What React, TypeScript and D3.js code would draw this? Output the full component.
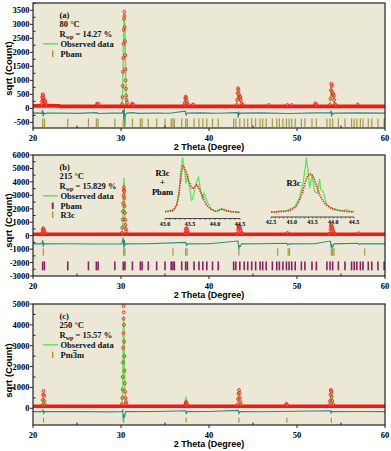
import React from 'react';
import * as d3 from 'd3';

type Pt = [number, number];

const xTicks = [20, 30, 40, 50, 60];
const xMinor = [25, 35, 45, 55];

// reflection positions (2 theta)
const pbamTicks = [21.1, 21.3, 23.95, 26.3, 27.2, 27.4, 29.3, 30.26, 30.45, 31.3, 32.2, 32.4, 33.1, 34.05, 35.0,
  35.7, 35.9, 36.06, 36.9, 37.35, 37.54, 38.3, 38.86, 39.3, 39.75, 40.4, 41.05, 42.8, 43.05, 43.5, 44.0, 44.4,
  44.85, 45.3, 45.8, 46.1, 46.5, 47.2, 47.7, 48.0, 48.4, 48.8, 49.1, 49.4, 49.8, 50.5, 50.9, 51.7, 52.2, 53.4,
  53.75, 54.05, 54.7, 55.45, 56.2, 56.5, 56.8, 57.2, 57.5, 58.1, 58.5, 59.2, 59.9];
const r3cTicks = [21.17, 30.3, 30.45, 35.9, 37.35, 37.5, 43.4, 47.8, 49.0, 49.15, 53.9, 54.05, 54.2, 57.7];
const pm3mTicks = [21.2, 30.3, 37.4, 43.4, 48.85, 53.9];

// (a) 80 °C
const yTicksA = [-500, 0, 500, 1000, 1500, 2000, 2500, 3000, 3500];
const bgA: Pt[] = [[20, 90], [23, 90], [23.1, 70], [60, 70]];
const obsA: Pt[] = [
  [20.95, 120], [21.0, 250], [21.05, 400], [21.1, 500], [21.13, 470], [21.17, 380], [21.2, 300], [21.25, 210],
  [21.3, 250], [21.35, 280], [21.4, 200], [21.5, 120],
  [27.25, 120], [27.3, 170], [27.4, 150],
  [30.12, 150], [30.17, 400], [30.2, 800], [30.22, 1300], [30.25, 1800], [30.28, 2300], [30.31, 2800], [30.34, 3200],
  [30.37, 3450], [30.4, 3300], [30.42, 2900], [30.45, 2400], [30.47, 1900], [30.5, 1400], [30.52, 1000], [30.55, 700],
  [30.58, 450], [30.62, 300], [30.68, 200],
  [31.25, 130], [31.3, 170], [31.38, 130],
  [37.2, 110], [37.25, 200], [37.3, 350], [37.35, 420], [37.4, 380], [37.45, 280], [37.5, 180], [37.6, 120],
  [38.15, 110], [38.2, 140], [46.8, 120], [48.9, 120], [49.4, 120],
  [43.15, 120], [43.2, 300], [43.25, 550], [43.3, 720], [43.35, 650], [43.4, 500], [43.45, 380], [43.5, 420],
  [43.55, 400], [43.6, 300], [43.7, 180], [43.8, 120],
  [52.05, 120], [52.1, 180], [52.2, 120],
  [53.75, 120], [53.8, 350], [53.85, 650], [53.9, 880], [53.95, 800], [54.0, 600], [54.05, 480], [54.1, 520],
  [54.15, 450], [54.2, 300], [54.3, 150], [54.4, 110],
  [56.9, 140],
];
const calcA: Pt[] = [
  [20, 80], [20.95, 80], [21.02, 200], [21.08, 430], [21.12, 470], [21.18, 300], [21.25, 200], [21.33, 250],
  [21.4, 150], [21.5, 80], [27.15, 80], [27.3, 160], [27.45, 80],
  [30.1, 80], [30.2, 600], [30.27, 2000], [30.33, 3100], [30.38, 3400], [30.43, 3000], [30.5, 1800], [30.57, 700],
  [30.65, 200], [30.75, 80], [31.2, 80], [31.3, 160], [31.4, 80],
  [37.15, 80], [37.25, 250], [37.32, 380], [37.38, 400], [37.45, 250], [37.55, 90], [38.1, 80], [38.2, 130], [38.3, 80],
  [43.1, 80], [43.2, 300], [43.28, 700], [43.33, 680], [43.4, 480], [43.48, 400], [43.55, 380], [43.65, 200], [43.8, 80],
  [52.0, 80], [52.1, 170], [52.2, 80],
  [53.7, 80], [53.8, 350], [53.88, 850], [53.93, 820], [54.0, 560], [54.08, 480], [54.15, 430], [54.25, 200], [54.4, 80],
  [56.8, 80], [56.9, 130], [57.0, 80], [60, 80],
];
const diffA: Pt[] = [
  [20, -170], [20.5, -160], [21.0, -175], [21.08, -60], [21.15, -280], [21.22, -150], [21.35, -200], [21.5, -170],
  [23, -165], [25, -178], [27.3, -150], [27.4, -185], [29, -168], [30.1, -170], [30.25, -60], [30.32, -400],
  [30.38, 20], [30.42, -620], [30.48, -250], [30.55, -200], [30.65, -170], [31.3, -150], [32, -178], [34, -165],
  [35.5, -176], [37.3, -100], [37.4, -240], [37.5, -170], [39, -162], [41, -176], [43.25, -150], [43.32, -330],
  [43.4, -140], [43.5, -200], [43.6, -170], [46, -162], [49, -180], [52.1, -160], [53.8, -150], [53.88, -80],
  [53.93, -300], [54.0, -160], [54.1, -200], [54.25, -170], [57, -160], [60, -170],
];

// (b) 215 °C
const yTicksB = [-3000, -2000, -1000, 0, 1000, 2000, 3000, 4000, 5000, 6000];
const bgB: Pt[] = [[20, 100], [60, 100]];
const obsB: Pt[] = [
  [21.0, 150], [21.1, 400], [21.15, 550], [21.2, 500], [21.25, 350], [21.3, 250], [21.4, 150],
  [30.1, 200], [30.15, 600], [30.2, 1200], [30.22, 1800], [30.25, 2400], [30.28, 3000], [30.3, 3400], [30.33, 3600],
  [30.36, 3300], [30.38, 2800], [30.4, 2200], [30.43, 1700], [30.46, 1200], [30.5, 800], [30.55, 500], [30.6, 300],
  [37.3, 150], [37.35, 350], [37.4, 520], [37.45, 550], [37.5, 420], [37.55, 250], [37.6, 150],
  [43.2, 150], [43.3, 450], [43.35, 650], [43.4, 710], [43.45, 600], [43.5, 550], [43.55, 500], [43.6, 350],
  [43.7, 200], [43.8, 150], [48.9, 200],
  [53.7, 150], [53.8, 450], [53.85, 700], [53.9, 790], [53.95, 700], [54.0, 550], [54.05, 450], [54.1, 350],
  [54.2, 200], [54.3, 150], [57.0, 180],
];
const calcB: Pt[] = [
  [20, 100], [21.0, 100], [21.08, 350], [21.14, 500], [21.2, 450], [21.28, 250], [21.4, 100],
  [30.1, 100], [30.2, 800], [30.27, 2800], [30.32, 4300], [30.37, 3500], [30.43, 1600], [30.52, 500], [30.62, 150],
  [30.75, 100], [37.25, 100], [37.35, 350], [37.42, 500], [37.5, 350], [37.6, 100],
  [43.15, 100], [43.28, 500], [43.35, 700], [43.42, 650], [43.5, 550], [43.6, 300], [43.75, 100],
  [48.8, 100], [48.9, 180], [49.0, 100],
  [53.7, 100], [53.8, 400], [53.87, 780], [53.95, 700], [54.05, 450], [54.2, 150], [54.3, 100],
  [56.9, 100], [57.0, 160], [57.1, 100], [60, 100],
];
const diffB: Pt[] = [
  [20, -610], [21.0, -610], [21.1, -350], [21.18, -820], [21.25, -560], [21.4, -610], [24, -600], [27, -618],
  [30.1, -610], [30.25, -150], [30.32, -950], [30.38, -300], [30.45, -700], [30.6, -610], [33, -600],
  [37.35, -500], [37.45, -720], [37.55, -610], [40, -602], [43.3, -400], [43.38, -1000], [43.45, -750],
  [43.55, -800], [43.7, -610], [46, -600], [48.85, -560], [48.95, -700], [49.1, -610], [52, -605],
  [53.8, -400], [53.88, -900], [53.95, -700], [54.05, -850], [54.2, -610], [56.95, -560], [57.05, -650],
  [57.2, -610], [60, -610],
];

// (c) 250 °C
const yTicksC = [0, 1000, 2000, 3000, 4000, 5000];
const bgC: Pt[] = [[20, 100], [60, 100]];
const obsC: Pt[] = [
  [21.05, 150], [21.1, 400], [21.15, 650], [21.2, 830], [21.25, 600], [21.3, 350], [21.35, 150],
  [30.1, 200], [30.15, 500], [30.18, 900], [30.2, 1500], [30.22, 2200], [30.24, 2900], [30.26, 3600], [30.28, 4300],
  [30.3, 4900], [30.32, 4600], [30.34, 4000], [30.36, 3200], [30.38, 2500], [30.4, 1800], [30.43, 1200],
  [30.46, 800], [30.5, 500], [30.55, 300], [30.6, 200],
  [37.3, 150], [37.35, 250], [37.4, 300], [37.45, 250], [37.5, 150],
  [43.2, 150], [43.3, 450], [43.35, 700], [43.4, 880], [43.45, 750], [43.5, 500], [43.55, 300], [43.6, 180],
  [48.75, 150], [48.8, 220], [48.85, 150],
  [53.7, 150], [53.75, 350], [53.8, 650], [53.85, 880], [53.9, 800], [53.95, 550], [54.0, 350], [54.1, 180],
];
const calcC: Pt[] = [
  [20, 100], [21.05, 100], [21.12, 300], [21.18, 500], [21.25, 350], [21.35, 100],
  [30.1, 100], [30.18, 700], [30.23, 2200], [30.27, 3800], [30.3, 4400], [30.34, 3800], [30.38, 2300],
  [30.44, 900], [30.52, 300], [30.65, 100], [37.25, 100], [37.33, 350], [37.4, 560], [37.47, 350], [37.55, 100],
  [43.2, 100], [43.3, 450], [43.37, 780], [43.42, 760], [43.5, 400], [43.6, 100],
  [48.7, 100], [48.8, 200], [48.9, 100],
  [53.7, 100], [53.78, 450], [53.85, 900], [53.9, 960], [53.97, 600], [54.05, 250], [54.15, 100], [60, 100],
];
const diffC: Pt[] = [
  [20, -160], [21.1, -160], [21.15, -60], [21.22, -230], [21.3, -160], [25, -150], [28, -170], [30.1, -160],
  [30.2, -90], [30.27, -650], [30.33, -300], [30.4, -450], [30.5, -160], [34, -155], [37.35, -120], [37.42, -280],
  [37.5, -160], [40, -150], [43.33, -100], [43.4, -250], [43.5, -160], [46, -165], [53.8, -120], [53.88, -260],
  [53.95, -140], [54.05, -160], [57, -155], [60, -160],
];

// insets in (b), relative intensity
const inset1Ticks = [43.0, 43.5, 44.0, 44.5];
const inset1Obs: Pt[] = [
  [43.0, 11], [43.05, 11], [43.1, 12], [43.15, 13], [43.18, 15], [43.23, 22], [43.27, 35], [43.3, 55], [43.33, 75],
  [43.36, 85], [43.39, 82], [43.42, 76], [43.45, 68], [43.48, 60], [43.52, 52], [43.56, 48], [43.6, 52],
  [43.63, 55], [43.66, 52], [43.7, 45], [43.74, 38], [43.78, 30], [43.83, 22], [43.9, 16], [44.0, 12],
  [44.07, 13], [44.12, 16], [44.17, 15], [44.25, 12], [44.35, 11], [44.5, 10],
];
const inset1Calc: Pt[] = [
  [43.0, 12], [43.17, 14], [43.23, 20], [43.28, 41], [43.31, 74], [43.35, 99], [43.39, 79], [43.42, 57],
  [43.45, 71], [43.49, 52], [43.53, 28], [43.58, 41], [43.63, 60], [43.67, 67], [43.7, 52], [43.75, 31],
  [43.78, 41], [43.85, 26], [43.93, 15], [44.03, 11], [44.13, 15], [44.23, 12], [44.5, 10],
];
const inset2Ticks = [42.5, 43.0, 43.5, 44.0, 44.5];
const inset2Obs: Pt[] = [
  [42.5, 8], [42.6, 8], [42.7, 9], [42.8, 9], [42.9, 10], [43.0, 12], [43.05, 14], [43.1, 17], [43.15, 22],
  [43.22, 32], [43.28, 45], [43.33, 57], [43.38, 66], [43.43, 70], [43.48, 69], [43.53, 63], [43.58, 54],
  [43.63, 44], [43.68, 35], [43.75, 26], [43.85, 18], [43.95, 14], [44.1, 11], [44.2, 10], [44.3, 9], [44.5, 8],
];
const inset2Calc: Pt[] = [
  [42.5, 8], [42.87, 10], [43.08, 17], [43.18, 30], [43.27, 54], [43.33, 81], [43.35, 96], [43.39, 76],
  [43.43, 46], [43.49, 68], [43.55, 41], [43.62, 38], [43.67, 62], [43.7, 44], [43.76, 41], [43.83, 22],
  [43.91, 17], [43.99, 14], [44.12, 11], [44.24, 10], [44.32, 12], [44.4, 9], [44.5, 9],
];

const BG = '#ebe9d6';
const RED = '#ff1414';
const GREEN = '#5ce65c';
const TEAL = '#2f8d7c';
const OLIVE = '#a39a45';
const PURPLE = '#8a1f63';
const SERIF = '"Liberation Serif", "Times New Roman", serif';
const SANS = '"Liberation Sans", Arial, sans-serif';

const L = 33, R = 385;
const xScale = d3.scaleLinear().domain([20, 60]).range([L, R]);

interface Refl { pos: number[]; lo: number; hi: number; color: string; w: number; name: string }

interface PanelProps {
  top: number; bottom: number; yDomain: [number, number]; yTicks: number[];
  bg: Pt[]; obs: Pt[]; calc: Pt[]; diff: Pt[]; refl: Refl[];
  tag: string; temp: string; rwp: string; yLabelShift: number;
  children?: React.ReactNode;
}

function Panel(p: PanelProps) {
  const y = d3.scaleLinear().domain(p.yDomain).range([p.bottom, p.top]);
  const line = d3.line<Pt>().x(d => xScale(d[0])).y(d => y(d[1]));
  const step = p.yTicks[1] - p.yTicks[0];
  const yMinor = p.yTicks.map(t => t + step / 2).filter(t => t > p.yDomain[0] && t < p.yDomain[1]);
  const t0 = p.top + 12.3;
  const tx = 59.5;
  const rows = [0, 9, 19, 28.5, 38.5, 47.5];
  const cy = (p.top + p.bottom) / 2 + p.yLabelShift;
  return (
    <g>
      <rect x={L} y={p.top} width={R - L} height={p.bottom - p.top} fill={BG} />
      <path d={line(p.calc) || ''} fill="none" stroke={GREEN} strokeWidth={1.5} />
      <path d={line(p.bg) || ''} fill="none" stroke={RED} strokeWidth={3.6} />
      {p.obs.map((d, i) => (
        <circle key={i} cx={xScale(d[0])} cy={y(d[1])} r={1.5} fill="rgba(255,150,150,0.35)" stroke={RED} strokeWidth={0.8} />
      ))}
      <path d={line(p.diff) || ''} fill="none" stroke={TEAL} strokeWidth={1.1} />
      {p.refl.map((r, k) => (
        <g key={k}>
          {r.pos.map((v, i) => (
            <line key={i} x1={xScale(v)} x2={xScale(v)} y1={y(r.lo)} y2={y(r.hi)} stroke={r.color} strokeWidth={r.w} />
          ))}
        </g>
      ))}
      <rect x={L} y={p.top} width={R - L} height={p.bottom - p.top} fill="none" stroke="#222" strokeWidth={1.2} />
      {xTicks.map(t => (
        <g key={t}>
          <line x1={xScale(t)} x2={xScale(t)} y1={p.bottom} y2={p.bottom + 3} stroke="#222" />
          <text x={xScale(t)} y={p.bottom + 12.5} textAnchor="middle" fontFamily={SERIF} fontWeight="bold" fontSize={8.5}>{t}</text>
        </g>
      ))}
      {xMinor.map(t => (
        <line key={t} x1={xScale(t)} x2={xScale(t)} y1={p.bottom} y2={p.bottom - 2.5} stroke="#222" />
      ))}
      {p.yTicks.map(t => (
        <g key={t}>
          <line x1={L - 3} x2={L} y1={y(t)} y2={y(t)} stroke="#222" />
          <text x={29.5} y={y(t) + 3} textAnchor="end" fontFamily={SERIF} fontWeight="bold" fontSize={8.5}>{t}</text>
        </g>
      ))}
      {yMinor.map(t => (
        <line key={t} x1={L} x2={L + 2.5} y1={y(t)} y2={y(t)} stroke="#222" />
      ))}
      <text x={(L + R) / 2} y={p.bottom + 22} textAnchor="middle" fontFamily={SANS} fontWeight="bold" fontSize={9}>2 Theta (Degree)</text>
      <text transform={`translate(12,${cy}) rotate(-90)`} textAnchor="middle" fontFamily={SANS} fontWeight="bold" fontSize={9.5}>sqrt (Count)</text>
      <g fontFamily={SERIF} fontWeight="bold" fontSize={8.5} fill="#111">
        <text x={tx} y={t0 + rows[0] + 3}>{p.tag}</text>
        <text x={tx} y={t0 + rows[1] + 3}>{p.temp}</text>
        <text x={tx} y={t0 + rows[2] + 3}>R<tspan fontSize={6} dy={2}>wp</tspan><tspan dy={-2}> = {p.rwp} %</tspan></text>
        <line x1={43} x2={58} y1={t0 + rows[3]} y2={t0 + rows[3]} stroke={GREEN} strokeWidth={1.5} />
        <text x={tx + 1} y={t0 + rows[3] + 3}>Observed data</text>
        {p.refl.map((r, k) => (
          <g key={k}>
            <line x1={52.7} x2={52.7} y1={t0 + rows[4 + k] - 3.2} y2={t0 + rows[4 + k] + 3.2} stroke={r.color} strokeWidth={r.w + 0.3} />
            <text x={tx + 1} y={t0 + rows[4 + k] + 3}>{r.name}</text>
            {r.name === 'Pm3m' && (
              <line x1={tx + 13.4} x2={tx + 17.4} y1={t0 + rows[4 + k] - 4.3} y2={t0 + rows[4 + k] - 4.3} stroke="#111" strokeWidth={0.7} />
            )}
          </g>
        ))}
      </g>
      {p.children}
    </g>
  );
}

function Inset({ domain, x0, x1, axisY, topY, ticks, obs, calc }: {
  domain: [number, number]; x0: number; x1: number; axisY: number; topY: number; ticks: number[]; obs: Pt[]; calc: Pt[];
}) {
  const x = d3.scaleLinear().domain(domain).range([x0, x1]);
  const y = d3.scaleLinear().domain([0, 100]).range([axisY, topY]);
  const line = d3.line<Pt>().x(d => x(d[0])).y(d => y(d[1]));
  const minor = d3.range(domain[0], domain[1] + 0.001, 0.1);
  return (
    <g>
      <path d={line(calc) || ''} fill="none" stroke={GREEN} strokeWidth={1.3} />
      <path d={line(obs) || ''} fill="none" stroke={RED} strokeWidth={1.6} strokeDasharray="1.3 1.1" />
      <line x1={x0} x2={x1} y1={axisY} y2={axisY} stroke="#222" strokeWidth={0.8} />
      {minor.map((t, i) => (
        <line key={i} x1={x(t)} x2={x(t)} y1={axisY} y2={axisY + 1.5} stroke="#222" strokeWidth={0.6} />
      ))}
      {ticks.map(t => (
        <text key={t} x={x(t)} y={axisY + 7} textAnchor="middle" fontFamily={SERIF} fontWeight="bold" fontSize={6}>{t.toFixed(1)}</text>
      ))}
    </g>
  );
}

export default function App() {
  return (
    <div style={{ position: 'absolute', left: 0, top: 0, background: '#fff' }}>
      <svg width={391} height={451} viewBox="0 0 391 451" style={{ display: 'block' }}>
        <rect width={391} height={451} fill="#fff" />
        <Panel top={3} bottom={128} yDomain={[-700, 3760]} yTicks={yTicksA} bg={bgA} obs={obsA} calc={calcA}
          diff={diffA} tag="(a)" temp="80 °C" rwp="14.27" yLabelShift={3}
          refl={[{ pos: pbamTicks, lo: -360, hi: -660, color: OLIVE, w: 1.2, name: 'Pbam' }]} />
        <Panel top={155} bottom={276} yDomain={[-3000, 6000]} yTicks={yTicksB} bg={bgB} obs={obsB} calc={calcB}
          diff={diffB} tag="(b)" temp="215 °C" rwp="15.829" yLabelShift={5}
          refl={[
            { pos: pbamTicks, lo: -1920, hi: -2580, color: PURPLE, w: 1.6, name: 'Pbam' },
            { pos: r3cTicks, lo: -930, hi: -1500, color: OLIVE, w: 1.2, name: 'R3c' },
          ]}>
          <g fontFamily={SERIF} fontWeight="bold" fontSize={8.5} textAnchor="middle">
            <text x={162.5} y={175.5}>R3c</text>
            <text x={162.5} y={184.5}>+</text>
            <text x={162.5} y={195}>Pbam</text>
            <text x={293.5} y={185.5}>R3c</text>
          </g>
          <Inset domain={[43.0, 44.5]} x0={165} x1={240} axisY={218.5} topY={157} ticks={inset1Ticks} obs={inset1Obs} calc={inset1Calc} />
          <Inset domain={[42.5, 44.5]} x0={271} x1={354} axisY={217} topY={155} ticks={inset2Ticks} obs={inset2Obs} calc={inset2Calc} />
        </Panel>
        <Panel top={304} bottom={425} yDomain={[-800, 5000]} yTicks={yTicksC} bg={bgC} obs={obsC} calc={calcC}
          diff={diffC} tag="(c)" temp="250 °C" rwp="15.57" yLabelShift={6}
          refl={[{ pos: pm3mTicks, lo: -450, hi: -690, color: OLIVE, w: 1.2, name: 'Pm3m' }]} />
      </svg>
    </div>
  );
}
